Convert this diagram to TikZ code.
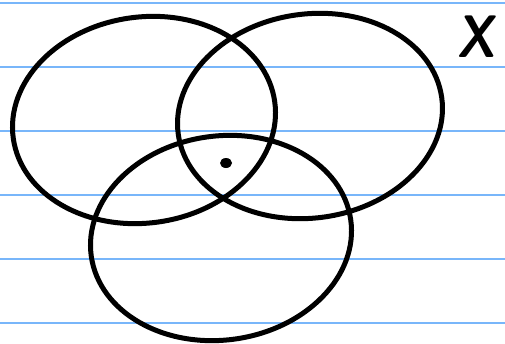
\documentclass[tikz,border=0pt]{standalone}
\begin{document}
\begin{tikzpicture}[x=1pt,y=-1pt,
  ruled/.style={draw=rulecol,line width=2.2pt},
  setline/.style={draw=black,line width=5pt},
]
\definecolor{rulecol}{RGB}{120,182,250}
\useasboundingbox[fill=white] (0,0) rectangle (505,343);
\foreach \yy in {3,67,131,195,259,323} {\draw[ruled] (0,\yy) -- (505,\yy);}
\coordinate (cA) at (144,120);
\coordinate (cB) at (310,116);
\coordinate (cC) at (221,238);
\draw[setline,rotate around={8:(cA)}] (cA) ellipse [x radius=132pt,y radius=103pt];
\draw[setline,rotate around={8:(cB)}] (cB) ellipse [x radius=133pt,y radius=102pt];
\draw[setline,rotate around={8:(cC)}] (cC) ellipse [x radius=131pt,y radius=102pt];
\fill[black] (226,163) ellipse [x radius=6pt,y radius=5pt];
\node[font=\sffamily\fontseries{sbc}\selectfont\fontsize{60}{60}\selectfont,inner sep=0pt,xslant=0.12] (xlabel) at (479,37) {X};
\end{tikzpicture}
\end{document}
